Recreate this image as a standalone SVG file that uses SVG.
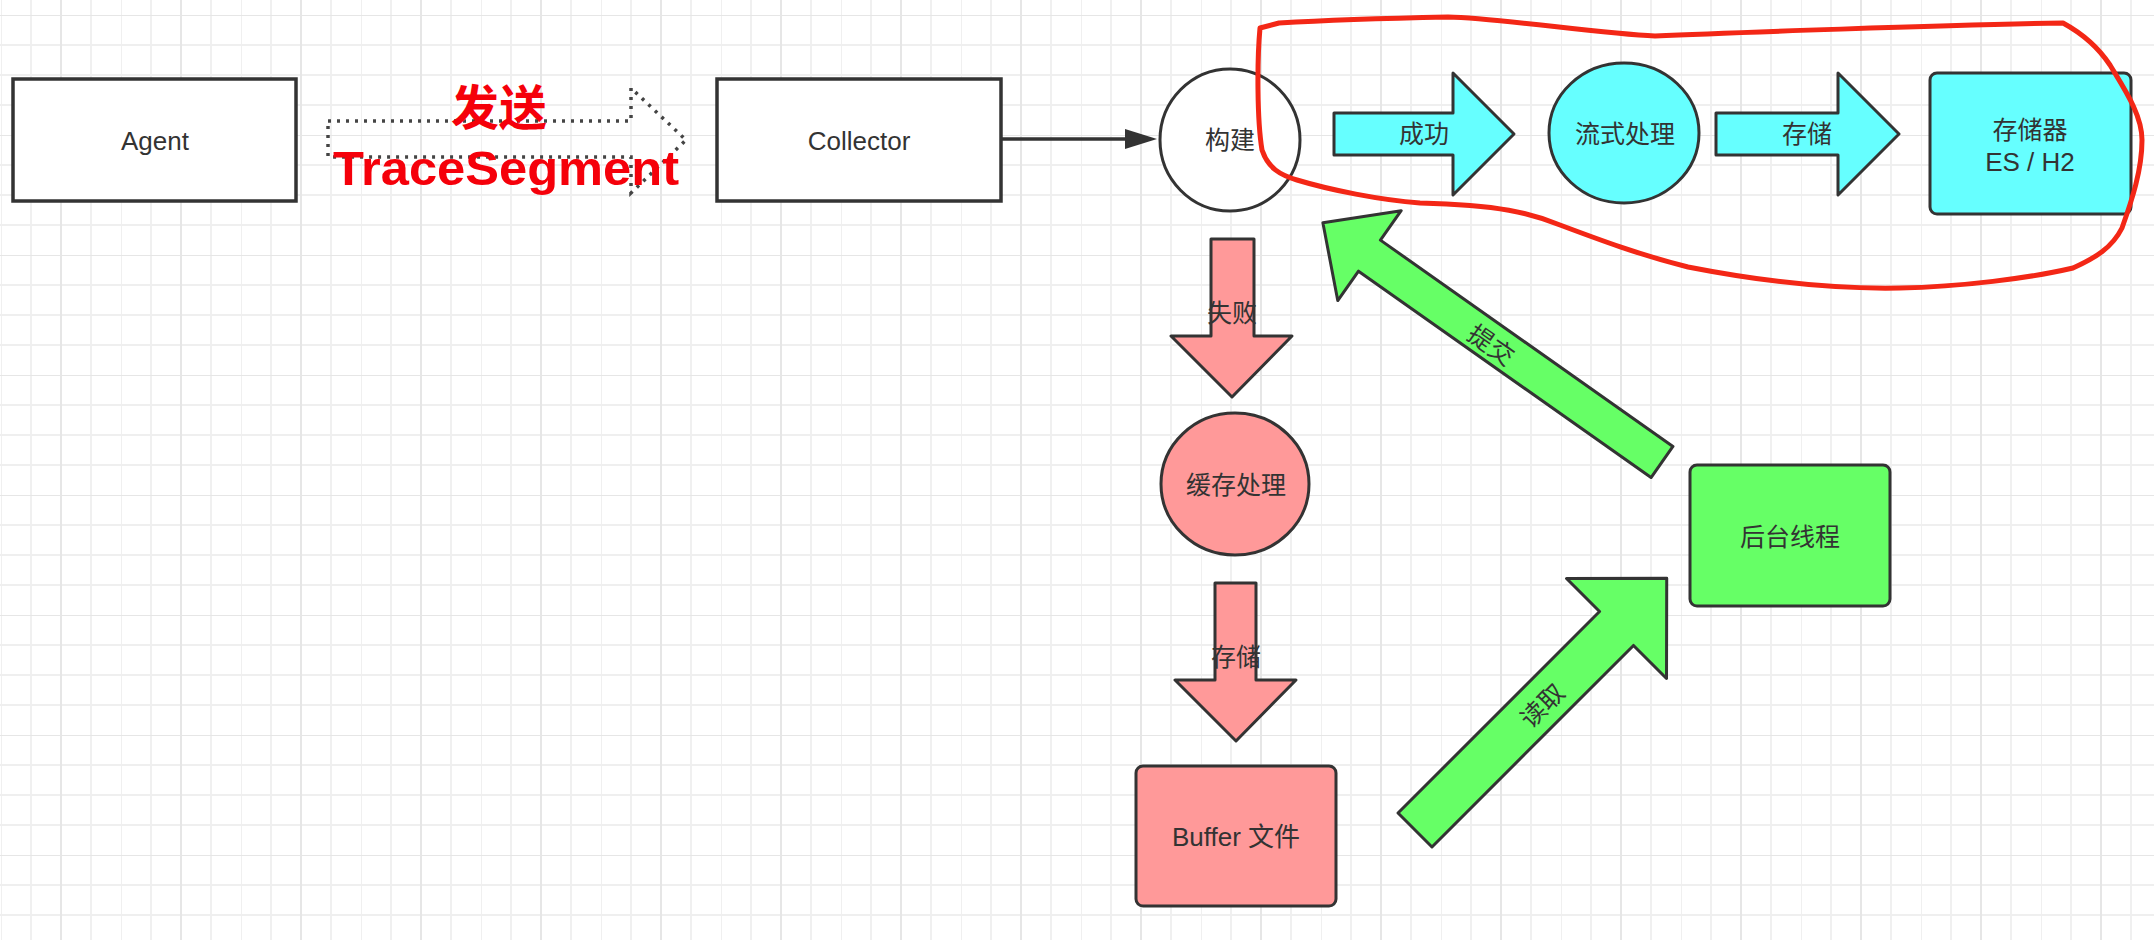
<svg xmlns="http://www.w3.org/2000/svg" width="2154" height="940" viewBox="0 0 2154 940">
<defs>
<pattern id="grid" x="1" y="15" width="120" height="120" patternUnits="userSpaceOnUse">
<path d="M0 0V120M30 0V120M90 0V120M0 30H120M0 60H120M0 90H120" stroke="#efefef" stroke-width="1.8" fill="none"/>
<path d="M60 0V120M0 0H120" stroke="#e6e6e6" stroke-width="2" fill="none"/>
</pattern>
<style>
.box{fill:#fff;stroke:#333;stroke-width:3.5}
.shape{stroke:#333;stroke-width:3;stroke-linejoin:round}
.cyan{fill:#66ffff}
.pink{fill:#ff9999}
.green{fill:#66ff66}
.t{font-family:"Liberation Sans","Noto Sans CJK SC",sans-serif;font-size:25px;fill:#333;text-anchor:middle;dominant-baseline:central}
.en{font-size:26px}
.red{font-family:"Liberation Sans","Noto Sans CJK SC",sans-serif;font-weight:bold;fill:#f5000a;text-anchor:middle}
</style>
</defs>
<rect width="2154" height="940" fill="#fff"/>
<rect width="2154" height="940" fill="url(#grid)"/>

<g id="connectors">
  <g id="send-arrow">
    <polygon points="328,121 631,121 631,88 686,140 631,193 631,157 328,157" fill="none" stroke="#444" stroke-width="3.5" stroke-dasharray="3 6"/>
    <text class="red" x="499" y="125" font-size="48">发送</text>
    <text class="red" x="506" y="185" font-size="48" textLength="346" lengthAdjust="spacingAndGlyphs">TraceSegment</text>
  </g>
  <g id="collector-to-build">
    <line x1="1001" y1="139" x2="1128" y2="139" stroke="#333" stroke-width="3.5"/>
    <polygon points="1125,129 1157,139 1125,149" fill="#333"/>
  </g>
  <g id="success-arrow">
    <polygon class="shape cyan" points="1334,113 1453,113 1453,73 1514,134 1453,195 1453,155 1334,155"/>
    <text class="t" x="1424" y="134">成功</text>
  </g>
  <g id="store-arrow">
    <polygon class="shape cyan" points="1716,113 1838,113 1838,73 1899,134 1838,195 1838,155 1716,155"/>
    <text class="t" x="1807" y="134">存储</text>
  </g>
  <g id="fail-arrow">
    <polygon class="shape pink" points="1211,239 1254,239 1254,336 1292,336 1232,397 1171,336 1211,336"/>
    <text class="t" x="1232" y="313">失败</text>
  </g>
  <g id="buffer-store-arrow">
    <polygon class="shape pink" points="1215,583 1256,583 1256,680 1296,680 1236,741 1175,680 1215,680"/>
    <text class="t" x="1236" y="657">存储</text>
  </g>
  <g id="read-arrow" transform="translate(1415,830) rotate(-45)">
    <polygon class="shape green" points="0,-24 285,-24 285,-70.7 356,0 285,70.7 285,24 0,24"/>
    <text class="t" x="178" y="2">读取</text>
  </g>
  <g id="submit-arrow" transform="translate(1662,462) rotate(35.2)">
    <polygon class="shape green" points="0,-19 -358,-19 -358,-55 -415,0 -358,55 -358,19 0,19"/>
    <text class="t" x="-207" y="3">提交</text>
  </g>
</g>

<g id="node-agent">
  <rect class="box" x="13" y="79" width="283" height="122"/>
  <text class="t en" x="155" y="141">Agent</text>
</g>
<g id="node-collector">
  <rect class="box" x="717" y="79" width="284" height="122"/>
  <text class="t en" x="859" y="141">Collector</text>
</g>
<g id="node-build">
  <ellipse cx="1230" cy="140" rx="70" ry="71" fill="#fff" stroke="#333" stroke-width="3"/>
  <text class="t" x="1230" y="140">构建</text>
</g>
<g id="node-stream">
  <ellipse class="shape cyan" cx="1624" cy="133" rx="75" ry="70"/>
  <text class="t" x="1625" y="134">流式处理</text>
</g>
<g id="node-storage">
  <rect class="shape cyan" x="1930" y="73" width="201" height="141" rx="7"/>
  <text class="t" x="2030" y="130">存储器</text>
  <text class="t en" x="2030" y="162">ES / H2</text>
</g>
<g id="node-cache">
  <ellipse class="shape pink" cx="1235" cy="484" rx="74" ry="71"/>
  <text class="t" x="1236" y="485">缓存处理</text>
</g>
<g id="node-buffer">
  <rect class="shape pink" x="1136" y="766" width="200" height="140" rx="7"/>
  <text class="t en" x="1236" y="837">Buffer 文件</text>
</g>
<g id="node-bg-thread">
  <rect class="shape green" x="1690" y="465" width="200" height="141" rx="7"/>
  <text class="t" x="1790" y="537">后台线程</text>
</g>

<path id="highlight" d="M1260 28 L1279 23 C1330 20 1400 18 1448 17 C1500 18 1600 34 1655 36 C1720 33 1950 25 2063 23 C2085 35 2100 50 2110 65 C2125 90 2142 115 2142 140 C2142 170 2132 200 2122 228 C2112 248 2095 258 2073 268 C2030 278 1960 287 1900 288 C1850 289 1780 285 1688 267 C1640 255 1600 240 1560 225 C1530 213 1500 205 1420 203 C1380 200 1330 190 1297 180 C1280 175 1268 168 1262 150 C1257 120 1257 60 1260 28 Z" fill="none" stroke="#f32716" stroke-width="5" stroke-linejoin="round"/>
</svg>
